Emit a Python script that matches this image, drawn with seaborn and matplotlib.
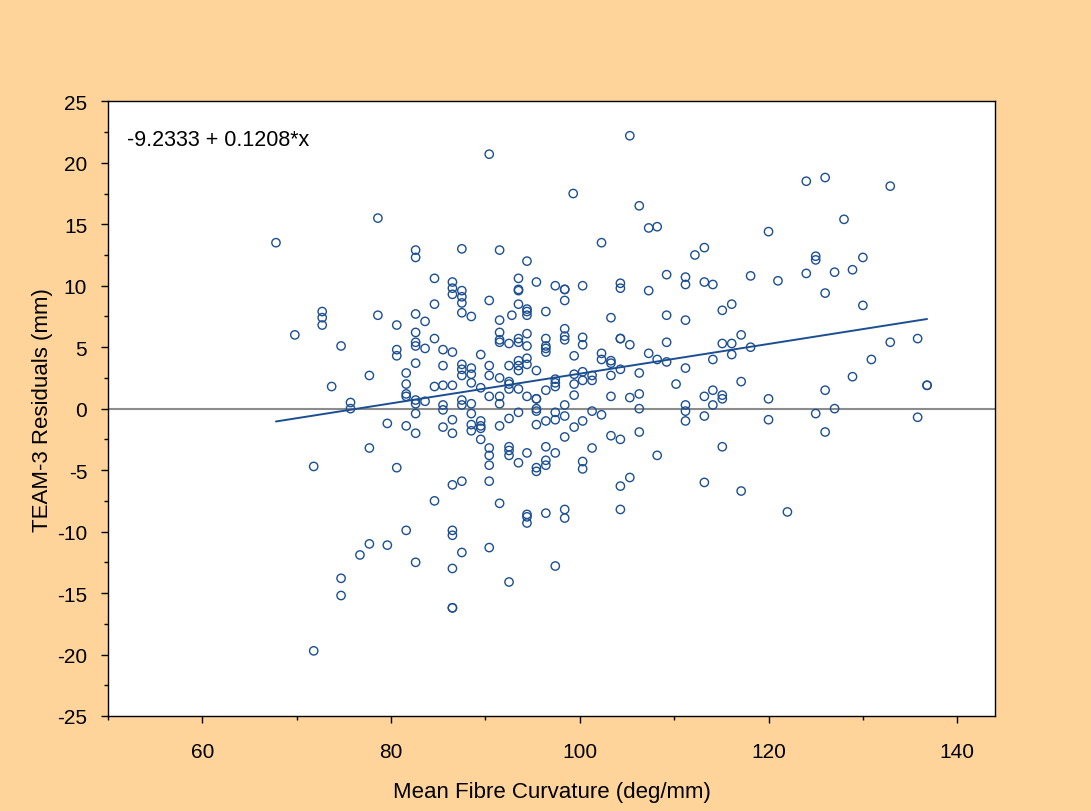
import matplotlib
matplotlib.use("Agg")
import matplotlib.pyplot as plt
import seaborn as sns
import pandas as pd
from matplotlib.ticker import MultipleLocator

# residuals, grouped by curvature value
groups = [
    (67.8, [13.5]),
    (69.8, [6.0]),
    (71.8, [-4.7, -19.7]),
    (72.7, [7.9, 7.4, 6.8]),
    (73.7, [1.8]),
    (74.7, [5.1, -13.8, -15.2]),
    (75.7, [0.5, 0.0]),
    (76.7, [-11.9]),
    (77.7, [2.7, -3.2, -11.0]),
    (78.6, [15.5, 7.6]),
    (79.6, [-1.2, -11.1]),
    (80.6, [6.8, 4.8, 4.3, -4.8]),
    (81.6, [2.9, 2.0, 1.2, 1.0, -1.4, -9.9]),
    (82.6, [12.9, 12.3, 7.7, 6.2, 5.4, 5.1, 3.7, 0.7, 0.4, -0.4, -2.0, -12.5]),
    (83.6, [7.1, 4.9, 0.6]),
    (84.6, [10.6, 8.5, 5.7, 1.8, -7.5]),
    (85.5, [4.8, 3.5, 1.9, 0.3, -0.1, -1.5]),
    (86.5, [10.3, 9.8, 9.3, 4.6, 1.9, -0.9, -2.0, -6.2, -9.9, -10.3, -13.0, -16.2, -16.2]),
    (87.5, [13.0, 9.6, 9.1, 8.6, 7.8, 3.6, 3.2, 2.7, 0.7, 0.3, -5.9, -11.7]),
    (88.5, [7.5, 3.3, 2.8, 2.1, 0.4, -0.4, -1.3, -1.8]),
    (89.5, [4.4, 1.7, -1.0, -1.4, -1.6, -2.5]),
    (90.4, [20.7, 8.8, 3.5, 2.7, 1.0, -3.2, -3.8, -4.6, -5.9, -11.3]),
    (91.5, [12.9, 7.2, 6.2, 5.6, 5.4, 2.5, 1.0, 0.4, -1.4, -7.7]),
    (92.5, [5.3, 3.5, 2.2, 2.0, 1.6, -0.8, -3.1, -3.4, -3.8, -14.1]),
    (92.8, [7.6]),
    (93.5, [10.6, 9.6, 9.7, 8.5, 5.7, 5.4, 3.9, 3.5, 3.1, 1.6, -0.3, -4.4]),
    (94.4, [12.0, 8.1, 7.9, 7.6, 6.1, 5.1, 4.1, 3.6, 1.0, -3.6, -8.6, -8.8, -9.3]),
    (95.4, [10.3, 3.1, 0.8, 0.8, 0.0, -0.2, -1.3, -4.8, -5.1]),
    (96.4, [7.9, 5.7, 5.1, 4.9, 4.6, 1.5, -1.0, -3.1, -4.2, -4.6, -8.5]),
    (97.4, [10.0, 2.4, 2.1, 1.8, -0.3, -0.9, -3.6, -12.8]),
    (98.4, [9.7, 9.7, 8.8, 6.5, 5.9, 5.6, 0.3, -0.6, -2.3, -8.2, -8.9]),
    (99.3, [17.5]),
    (99.4, [4.3, 2.8, 2.0, 1.1, -1.5]),
    (100.3, [10.0, 5.8, 5.2, 3.0, 2.3, -1.0, -4.3, -4.9]),
    (101.3, [2.7, 2.3, -0.2, -3.2]),
    (102.3, [13.5, 4.5, 4.0, -0.5]),
    (103.3, [7.4, 3.9, 3.7, 2.7, 1.0, -2.2]),
    (104.3, [10.2, 9.8, 5.7, 5.7, 3.2, -2.5, -6.3, -8.2]),
    (105.3, [22.2, 5.2, 0.9, -5.6]),
    (106.3, [16.5, 2.9, 1.2, 0.0, -1.9]),
    (107.3, [14.7, 9.6, 4.5]),
    (108.2, [14.8, 4.0, -3.8]),
    (109.2, [10.9, 7.6, 5.4, 3.8]),
    (110.2, [2.0]),
    (111.2, [10.7, 10.1, 7.2, 3.3, 0.3, -0.2, -1.0]),
    (112.2, [12.5]),
    (113.2, [13.1, 10.3, 1.0, -0.6, -6.0]),
    (114.1, [10.1, 4.0, 1.5, 0.3]),
    (115.1, [8.0, 5.3, 1.1, 0.8, -3.1]),
    (116.1, [8.5, 5.3, 4.4]),
    (117.1, [6.0, 2.2, -6.7]),
    (118.1, [10.8, 5.0]),
    (120.0, [14.4, 0.8, -0.9]),
    (121.0, [10.4]),
    (122.0, [-8.4]),
    (124.0, [18.5, 11.0]),
    (125.0, [12.4, 12.1, -0.4]),
    (126.0, [18.8, 9.4, 1.5, -1.9]),
    (127.0, [11.1, 0.0]),
    (128.0, [15.4]),
    (128.9, [11.3, 2.6]),
    (130.0, [12.3, 8.4]),
    (130.9, [4.0]),
    (132.9, [18.1, 5.4]),
    (135.8, [5.7, -0.7]),
    (136.8, [1.9, 1.9]),
]

curvature = [gx for gx, ys in groups for _ in ys]
residuals = [y for gx, ys in groups for y in ys]
df = pd.DataFrame({"curvature": curvature, "residual": residuals})

intercept = -9.2333
slope = 0.1208
fit_x = [min(curvature), max(curvature)]
fit_y = [intercept + slope * v for v in fit_x]

sns.set_style("white")
plt.rcParams["font.family"] = ["Liberation Sans", "DejaVu Sans"]
plt.rcParams["axes.unicode_minus"] = False
plt.rcParams["text.color"] = "black"
plt.rcParams["axes.labelcolor"] = "black"
plt.rcParams["xtick.color"] = "black"
plt.rcParams["ytick.color"] = "black"

blue = "#1c4f91"
fig = plt.figure(figsize=(10.91, 8.12), dpi=100, facecolor="#ffd49a")
ax = fig.add_axes([0.099, 0.117, 0.813, 0.757])
ax.set_facecolor("white")

ax.axhline(0, color="#8c8c8c", lw=1.5, zorder=1)
sns.scatterplot(data=df, x="curvature", y="residual", ax=ax, marker="o",
                s=36, facecolors="none", edgecolor=blue, linewidth=1.0, zorder=3)
sns.lineplot(x=fit_x, y=fit_y, ax=ax, color=blue, lw=1.4, zorder=2)

ax.set_xlim(50, 144)
ax.set_ylim(-25, 25)
ax.xaxis.set_major_locator(MultipleLocator(20))
ax.xaxis.set_minor_locator(MultipleLocator(10))
ax.yaxis.set_major_locator(MultipleLocator(5))
ax.yaxis.set_minor_locator(MultipleLocator(2.5))
ax.tick_params(which="major", direction="out", length=5, width=1, labelsize=15,
               bottom=True, left=True, color="black", labelcolor="black")
ax.tick_params(axis="x", which="major", pad=14)
ax.tick_params(axis="y", which="major", pad=10)
ax.tick_params(which="minor", direction="out", length=3, width=1,
               bottom=True, left=True, color="black")
for sp in ax.spines.values():
    sp.set_color("black")
    sp.set_linewidth(1)

ax.set_xlabel("Mean Fibre Curvature (deg/mm)", fontsize=16, labelpad=14)
ax.set_ylabel("TEAM-3 Residuals (mm)", fontsize=16, labelpad=3)
ax.text(0.021, 0.955, "-9.2333 + 0.1208*x", transform=ax.transAxes,
        fontsize=15.5, va="top", ha="left")

fig.savefig("out.png", dpi=100, facecolor=fig.get_facecolor())
